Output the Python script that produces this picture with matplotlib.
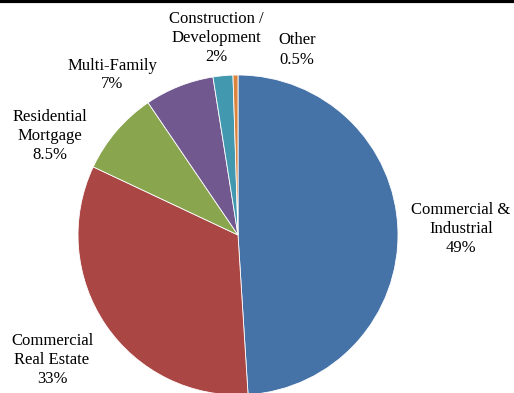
import matplotlib.pyplot as plt

labels = ["Commercial &\nIndustrial\n49%", "Commercial\nReal Estate\n33%",
          "Residential\nMortgage\n8.5%", "Multi-Family\n7%",
          "Construction /\nDevelopment\n2%", "Other\n0.5%"]
shares = [49, 33, 8.5, 7, 2, 0.5]
colors = ["#4572A7", "#AA4643", "#89A54E", "#71588F", "#4198AF", "#DB843D"]

# label positions in pixel space (x, y from top)
label_pos = [(461, 229), (52, 360), (50, 136), (112, 75), (216, 38), (297, 50)]


def main() -> None:
    plt.rcParams["font.family"] = ["Liberation Serif", "DejaVu Serif"]
    fig = plt.figure(figsize=(5.14, 3.93), dpi=100)
    ax = fig.add_axes([0, 0, 1, 1])

    ax.pie(shares, colors=colors, startangle=90, counterclock=False,
           center=(238, 393 - 235), radius=160,
           wedgeprops=dict(edgecolor="white", linewidth=0.6), frame=True)
    ax.set_xlim(0, 514)
    ax.set_ylim(0, 393)
    ax.set_aspect("equal")
    ax.axis("off")

    for text, (x, y) in zip(labels, label_pos):
        ax.text(x, 393 - y, text, ha="center", va="center", fontsize=12,
                linespacing=1.25, color="black")

    # top border line
    ax.plot([0, 514], [392, 392], color="black", linewidth=3,
            solid_capstyle="butt", clip_on=False)

    fig.savefig("out.png", dpi=100)


if __name__ == "__main__":
    main()
